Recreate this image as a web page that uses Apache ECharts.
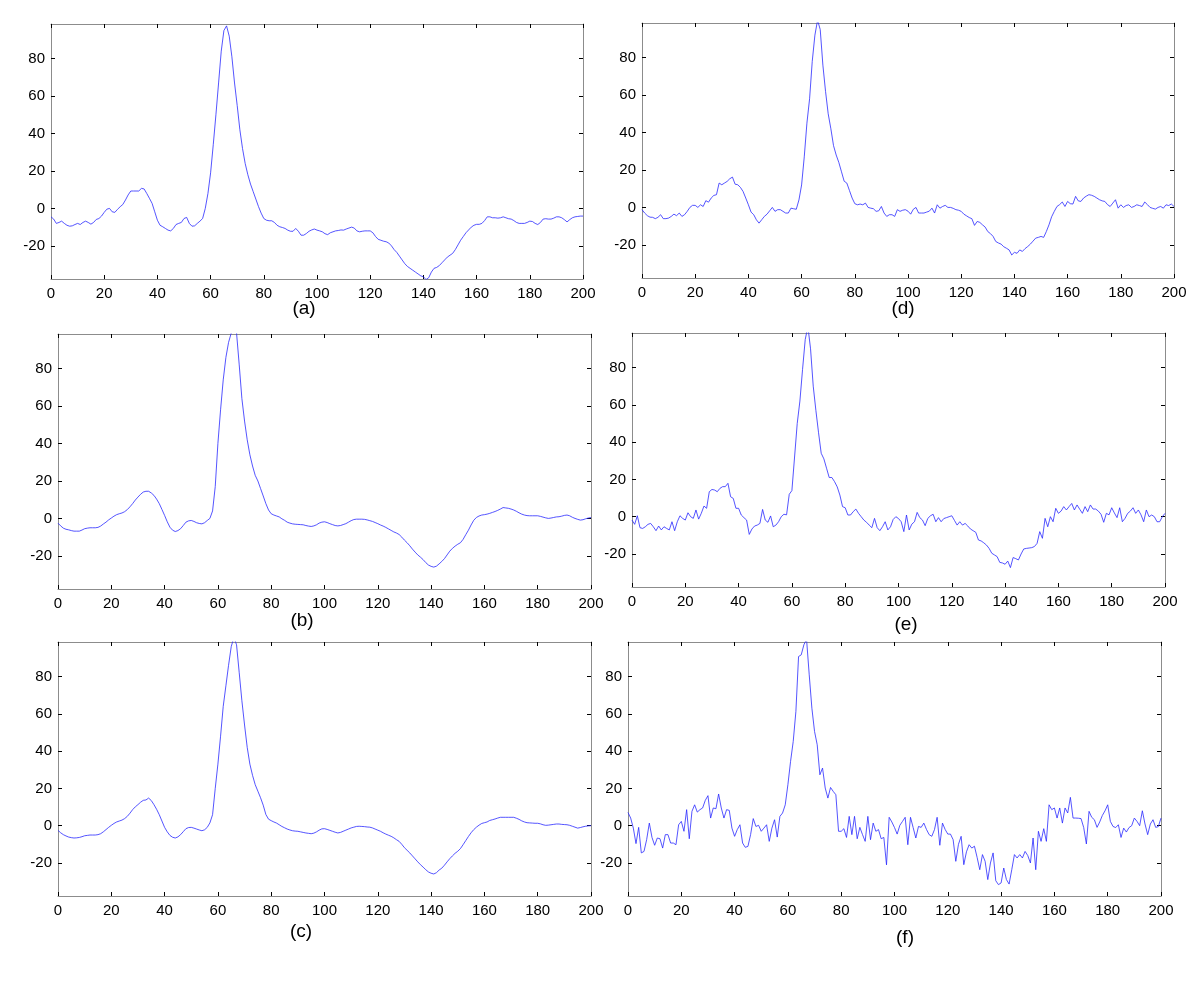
<!DOCTYPE html>
<html>
<head>
<meta charset="utf-8">
<script src="https://cdn.jsdelivr.net/npm/echarts@6/dist/echarts.min.js"></script>
<style>
  html, body { margin: 0; padding: 0; background: #fff; }
  #panel { width: 1200px; height: 985px; }
</style>
</head>
<body>
<div id="panel"></div>
<script>
// sample index 0..200 (x axis of every panel)
const sampleIdx = Array.from({ length: 201 }, (_, i) => i);
const xTicks = [0, 20, 40, 60, 80, 100, 120, 140, 160, 180, 200];
const yTicks = [-20, 0, 20, 40, 60, 80];
const panelNames = ['(a)', '(b)', '(c)', '(d)', '(e)', '(f)'];

const sigA = [
  -4.5, -5.7, -8, -7.5, -6.8, -8, -9, -9.5, -9.3, -8.6,
  -8, -8.6, -7.5, -6.8, -7.5, -8.4, -7.5, -5.9, -5.4, -4.1,
  -2.1, -0.4, 0, -1.8, -2.1, -0.5, 0.9, 2.1, 4.5, 7.2,
  9.3, 9.3, 9.3, 9.3, 10.7, 10.4, 8, 5.4, 2.7, -1.8,
  -6.3, -9, -9.8, -10.7, -11.6, -12, -10.7, -8.6, -8, -7.5,
  -5.4, -4.8, -8, -9.5, -9.3, -8, -6.8, -5.4, 0, 8,
  19, 34, 50, 67, 84, 95, 97.5, 92, 81, 67,
  55, 42, 32, 24, 18, 13, 9, 5, 1, -2.5,
  -5.4, -6.3, -6.6, -6.6, -7.5, -9, -9.8, -10.2, -10.7, -11.6,
  -12.2, -12.2, -10.7, -12.2, -14.3, -14.3, -13.4, -12.2, -11.5, -11,
  -11.6, -12, -12.5, -13.5, -14, -13, -12.5, -12, -11.8, -11.5,
  -11.6, -11, -10.5, -10, -10.5, -12, -12.5, -12.2, -12, -12,
  -12, -13, -15, -16.5, -17, -17.5, -17.8, -18.5, -20, -22,
  -23.5, -25.5, -27.5, -29.5, -31, -32, -33, -34, -35, -36,
  -36.5, -38, -37, -34, -32, -31.5, -30.5, -29, -27.5, -26,
  -25, -24, -22, -19.5, -17, -15, -13, -11.5, -10, -9,
  -8.5, -8.5, -8, -6.5, -4.5, -4.5, -5, -5, -5.2, -5,
  -4.5, -5, -5.5, -5.7, -6.5, -7.5, -8, -8, -8, -7.5,
  -6.8, -7, -8, -8.6, -7.5, -5.7, -5.5, -5.7, -5.7, -5.2,
  -4.5, -4.5, -5, -6, -7.2, -6, -5, -4.5, -4.3, -4.1,
  -4.1
];

const sigB = [
  -2.5, -4, -5.2, -5.8, -6.1, -6.5, -6.8, -6.8, -6.8, -6.2,
  -5.5, -5.2, -5, -5, -5, -4.8, -4.1, -3, -2, -0.8,
  0.2, 1.2, 2, 2.5, 2.9, 3.6, 4.7, 6.2, 7.9, 9.8,
  11.4, 12.9, 14.1, 14.5, 14.5, 13.6, 12.3, 10.3, 7.9, 4.8,
  1.6, -1.8, -4.7, -6.3, -7, -6.5, -5.5, -3.8, -2, -1.3,
  -1.1, -1.6, -2.3, -2.7, -2.9, -2.3, -1.1, 0, 4, 17,
  40, 58, 74, 86, 94, 99, 101, 99, 82, 64,
  52, 42, 34, 28, 23, 20, 16, 12, 7.9, 4.5,
  2.5, 1.8, 1.3, 0.8, -0.2, -1, -2, -2.5, -2.9, -3.1,
  -3.2, -3.3, -3.4, -3.8, -4.1, -4.3, -4, -3.4, -2.5, -2,
  -1.8, -2.2, -2.8, -3.3, -3.8, -4, -3.8, -3.3, -2.8, -2,
  -1.2, -0.6, -0.4, -0.4, -0.4, -0.5, -0.8, -1.2, -1.6, -2.2,
  -2.8, -3.5, -4.1, -4.8, -5.6, -6.4, -7.2, -7.8, -8.6, -10,
  -11.6, -13, -14.6, -16.4, -18, -19.5, -20.7, -22, -23.6, -24.9,
  -25.6, -26, -25.5, -24.3, -23, -21.5, -19.5, -17.5, -16, -14.8,
  -13.8, -13, -11.2, -8.7, -6.3, -3.5, -1, 0.5, 1.3, 1.8,
  2, 2.3, 2.7, 3.2, 3.7, 4.3, 5, 5.8, 5.6, 5.4,
  5, 4.5, 3.8, 3, 2.3, 1.8, 1.5, 1.4, 1.4, 1.4,
  1.4, 1.1, 0.7, 0.3, 0, 0.2, 0.5, 0.8, 0.9, 1.2,
  1.6, 1.8, 1.4, 0.6, 0, -0.5, -0.9, -0.7, -0.2, 0.2,
  0.5
];

const sigC = [
  -2.5, -3.8, -4.8, -5.5, -6.1, -6.4, -6.6, -6.5, -6.3, -5.9,
  -5.4, -5.2, -5, -5, -5, -4.8, -4.3, -3.3, -2.1, -0.9,
  0.2, 1.2, 2, 2.5, 3, 3.8, 5, 6.7, 8.6, 10.1,
  11.3, 12.6, 13.6, 13.8, 14.8, 13.5, 11.3, 8.8, 5.9, 2.5,
  -0.9, -3.3, -5.2, -6.2, -6.6, -6, -4.8, -3.2, -1.6, -1,
  -0.9, -1.3, -1.8, -2.3, -2.7, -2.2, -0.9, 1.5, 5.9, 20,
  33, 48, 64, 75, 86, 96, 101, 97, 82, 67,
  54, 42, 33, 27, 22, 18.5, 15, 11, 6, 3.5,
  2.7, 2, 1.4, 0.5, -0.4, -1.1, -1.8, -2.3, -2.7, -2.9,
  -3, -3.3, -3.6, -3.9, -4.1, -4.3, -4, -3.3, -2.4, -1.7,
  -1.6, -2, -2.5, -3, -3.5, -3.9, -3.6, -3, -2.4, -1.8,
  -1.2, -0.8, -0.4, -0.3, -0.4, -0.5, -0.7, -0.8, -1.2, -1.8,
  -2.4, -3, -3.8, -4.5, -5.1, -5.7, -6.5, -7.5, -8.4, -10,
  -11.8, -13.2, -14.6, -16.2, -17.8, -19.4, -20.9, -22.2, -23.6, -24.8,
  -25.5, -25.9, -25.2, -23.8, -22.8, -21.2, -19.4, -17.7, -16.2, -14.8,
  -13.7, -12.3, -10.2, -8, -5.8, -3.8, -2.1, -0.8, 0.3, 1.2,
  1.6, 2, 2.8, 3.2, 3.6, 4.1, 4.5, 4.5, 4.5, 4.5,
  4.5, 4.5, 4, 3.4, 2.6, 2, 1.6, 1.5, 1.4, 1.3,
  1.3, 1, 0.5, 0.2, 0.3, 0.5, 0.7, 0.9, 0.9, 0.7,
  0.6, 0.5, 0.2, -0.3, -0.8, -1.3, -1, -0.6, -0.3, -0.1,
  0
];

const sigD = [
  -1.2, -3, -4.4, -5.2, -5.3, -6, -5.3, -3.9, -6, -6,
  -5.7, -4.8, -3.6, -4.4, -3, -4.8, -3.9, -2.1, 0, 1.1,
  1.1, 0, 1.4, 0.5, 3.6, 2.8, 5, 6.4, 6.8, 13,
  12.1, 13, 13.9, 15.3, 16.2, 12.4, 12.1, 10.7, 8.5, 5,
  1.4, -2.5, -3.9, -6.6, -8.4, -6.6, -4.8, -3.6, -1.8, 0,
  -2.1, -1.2, -1.2, -2.1, -3, -3, -0.4, -0.7, -1, 4,
  12, 27, 45, 58, 78, 92, 100, 95, 76, 62,
  50, 42, 33, 28, 24, 19, 14, 13, 9, 5,
  2, 1.4, 1.8, 1.4, 2.3, 0, -0.4, -0.7, -2.1, -1.8,
  0.5, -3, -4.8, -3.9, -3.9, -4.8, -1.2, -2.1, -1.5, -1.2,
  -2, -3.6, -1, 0, -3, -3, -3, -2.5, -2, -0.4,
  -3, 1.4, -0.4, 0.5, 1.1, 0, 0, -0.5, -1.2, -1.5,
  -2.1, -3.6, -4.5, -5.4, -6, -9.6, -7.5, -8, -9.3, -10.5,
  -12.9, -14, -15.5, -18.2, -19, -19.6, -21, -21.8, -22.7, -25.4,
  -24, -24.5, -22.7, -23.5, -22, -20.9, -19.6, -18, -16.4, -16,
  -15.5, -16, -12.9, -9.3, -5, -2.1, 0.5, 1.5, 2.9, 0.5,
  3.2, 2, 1.8, 5.9, 3.5, 3.2, 5, 6, 6.8, 6.5,
  5.9, 5, 4.1, 3.5, 3.2, 1.5, 0.5, 2.3, 4.1, -0.4,
  1.4, 0, 1, 1.4, 0, 0.5, 1.4, 1, 0.5, 2.9,
  1.5, 0, -0.5, -0.9, 0, 0.5, -0.4, 1.4, 1, 1.8,
  0.5
];

const sigE = [
  -1.8, -4.1, 0.5, -5.9, -6.3, -5.4, -4.1, -3.6, -5.4, -7.5,
  -5, -7.1, -5.4, -6.3, -7.1, -2.7, -7.5, -2.7, 0.5, -0.9,
  -1.8, 2.1, 0, -0.9, 3.6, -1.3, 1.8, 5.7, 4.5, 13.4,
  14.6, 14.3, 13.4, 15.2, 16.1, 16.1, 17.9, 10.7, 9.8, 4.5,
  4.5, 0.9, -0.5, -1.8, -9.5, -6.6, -5, -4.5, -3.6, 3.9,
  -1.8, -3, 0.4, -5.4, -4.5, -2.7, 0, 1.3, 1, 12,
  14, 32, 50, 62, 79, 95, 102, 90, 70, 57,
  45, 34, 31, 26, 21, 21, 18.8, 16, 11.6, 5.4,
  4.8, 0.9, 0.9, 2.7, 4.1, 1.8, 0, -1.8, -3, -4.5,
  -5.9, -0.9, -5.9, -7.5, -5.4, -2.7, -7.1, -5.4, -1.5, 0,
  -1, -2.7, -8, 0.9, -7.1, -4, -2.7, 2.3, -0.5, -1.8,
  -4.8, -0.9, 0.5, 1.3, -2.7, -0.5, -2.7, -1, -0.5, 0,
  0.5, -2, -4.5, -2.7, -4.5, -3.6, -5, -6.6, -7.5, -8.4,
  -12.5, -13, -14, -15.2, -17, -19.6, -20.5, -21.4, -24.5, -24.8,
  -25.5, -23.8, -27.3, -21.9, -22.5, -23.2, -20, -17.3, -17, -16.8,
  -16.6, -16, -14.3, -8, -11.6, -0.9, -5.4, 0, -2.7, 4.5,
  1.8, 3, 5.4, 3.6, 5.4, 7.1, 3.6, 6.3, 4, 1.8,
  5.4, 2.7, 6.3, 4.1, 4.1, 3, 1.3, -3, 1.8, 1,
  4.8, 2, -0.5, 4.8, -2.7, -0.9, 1.8, 3, 4.8, 1.8,
  3.6, 1, -2.7, 3.6, 0, 0.9, 0, -2.7, -2.7, 0,
  1.8
];

const sigF = [
  7.1, 4.1, -1.3, -9.6, -0.9, -14.6, -13.8, -7.5, 1.4, -6.3,
  -10.5, -6.6, -7, -12, -4.8, -4.8, -9.3, -9.3, -10.2, 0.5,
  2.3, -3, 8.6, -7, 7.7, 11.2, 7.3, 8.6, 9.5, 13.6,
  16.1, 4.1, 9.5, 9.1, 17, 9.5, 4.1, 8.6, 8.2, -1.3,
  -5.7, -2.1, 0.5, -9.3, -11.6, -11.1, -4.8, 3.8, -0.4, 0.2,
  -3, -1.3, 0.5, -8.4, -1.3, 3.2, -6.1, 5, 6.8, 11.2,
  22, 34.5, 45.2, 61.3, 90.7, 91.6, 97, 100, 80.9, 63,
  50.5, 43.4, 27.3, 30.9, 20.2, 14.8, 20.5, 18.4, 16.6, -3,
  -3, -1.6, -6.3, 5, -4.8, 5, -7, -0.9, -4.8, -8.4,
  5, -7.5, 1.4, -3, -2.1, -7, -6.3, -21, 4.5, 2,
  -1, -4.5, 0.2, 2.3, 4.5, -10.2, 4.5, -1, -6.6, -0.4,
  -0.9, 1.4, -2, -4.8, -5.7, -2.1, 4.5, -10.5, 1.4, -2,
  -4.5, -4.5, -7.5, -19.1, -10, -5.7, -20.9, -14, -10.2, -12,
  -11, -17, -23.6, -15.5, -19.1, -28.9, -20, -14.6, -29.5, -31.6,
  -30.7, -22.7, -28.9, -31.3, -23.6, -15.5, -17.3, -15.5, -17.3, -13.8,
  -16, -20, -6.6, -23.6, -3, -8.4, -1.6, -8.4, 11.2, 8.6,
  9.5, 4.1, 9.5, 1.4, 9.5, 6.8, 15.2, 4.1, 4.1, 4,
  3.8, -1, -9.8, 7.7, 4.5, 3.2, -0.9, 2, 5.5, 8,
  11.2, 2.3, -0.4, -1, 0.5, -6.3, -1.3, -3.4, -1, 0,
  4.1, 2.3, 0, 8, 0.9, -4.8, 0.9, 3.2, -0.9, -0.5,
  4.1
];

const signals = [sigA, sigB, sigC, sigD, sigE, sigF];

// plot boxes, same order as signals
const boxes = [
  { left: 51, top: 24, width: 532, height: 255 },
  { left: 58, top: 334, width: 533, height: 255 },
  { left: 58, top: 642, width: 533, height: 254 },
  { left: 642, top: 23, width: 532, height: 255 },
  { left: 632, top: 333, width: 533, height: 254 },
  { left: 628, top: 642, width: 533, height: 254 }
];
const captionPos = [[304, 309], [302, 621], [301, 932], [903, 309], [906, 625], [905, 938]];

const FONT = 'Liberation Sans, Arial, sans-serif';
const AXIS_GREY = '#8c8c8c';

function makeAxis(kind, gi, pos, withLabels) {
  const isX = kind === 'x';
  return {
    type: 'value',
    gridIndex: gi,
    position: pos,
    min: isX ? 0 : -37.7,
    max: isX ? 200 : 98.5,
    axisLine: { show: true, onZero: false, lineStyle: { color: AXIS_GREY, width: 1 } },
    axisTick: {
      show: true,
      inside: true,
      length: 4,
      customValues: isX ? xTicks : yTicks,
      lineStyle: { color: '#000', width: 1 }
    },
    axisLabel: {
      show: withLabels,
      customValues: isX ? xTicks : yTicks,
      color: '#000',
      fontFamily: FONT,
      fontSize: 15,
      margin: isX ? 7 : 6
    },
    splitLine: { show: false }
  };
}

var option = {
  backgroundColor: '#fff',
  animation: false,
  grid: boxes.map((b) => Object.assign({ containLabel: false }, b)),
  xAxis: [],
  yAxis: [],
  series: [],
  graphic: []
};

signals.forEach((sig, i) => {
  option.xAxis.push(makeAxis('x', i, 'bottom', true));
  option.xAxis.push(makeAxis('x', i, 'top', false));
  option.yAxis.push(makeAxis('y', i, 'left', true));
  option.yAxis.push(makeAxis('y', i, 'right', false));
  option.series.push({
    type: 'line',
    xAxisIndex: i * 2,
    yAxisIndex: i * 2,
    data: sampleIdx.map((x, k) => [x, sig[k]]),
    showSymbol: false,
    clip: true,
    lineStyle: { color: '#2a2aff', width: 0.8 }
  });
  option.graphic.push({
    type: 'text',
    x: captionPos[i][0],
    y: captionPos[i][1],
    style: {
      text: panelNames[i],
      fill: '#000',
      font: '19px ' + FONT,
      align: 'center',
      verticalAlign: 'middle'
    }
  });
});

const myChart = echarts.init(document.getElementById('panel'));
myChart.setOption(option);
</script>
</body>
</html>
